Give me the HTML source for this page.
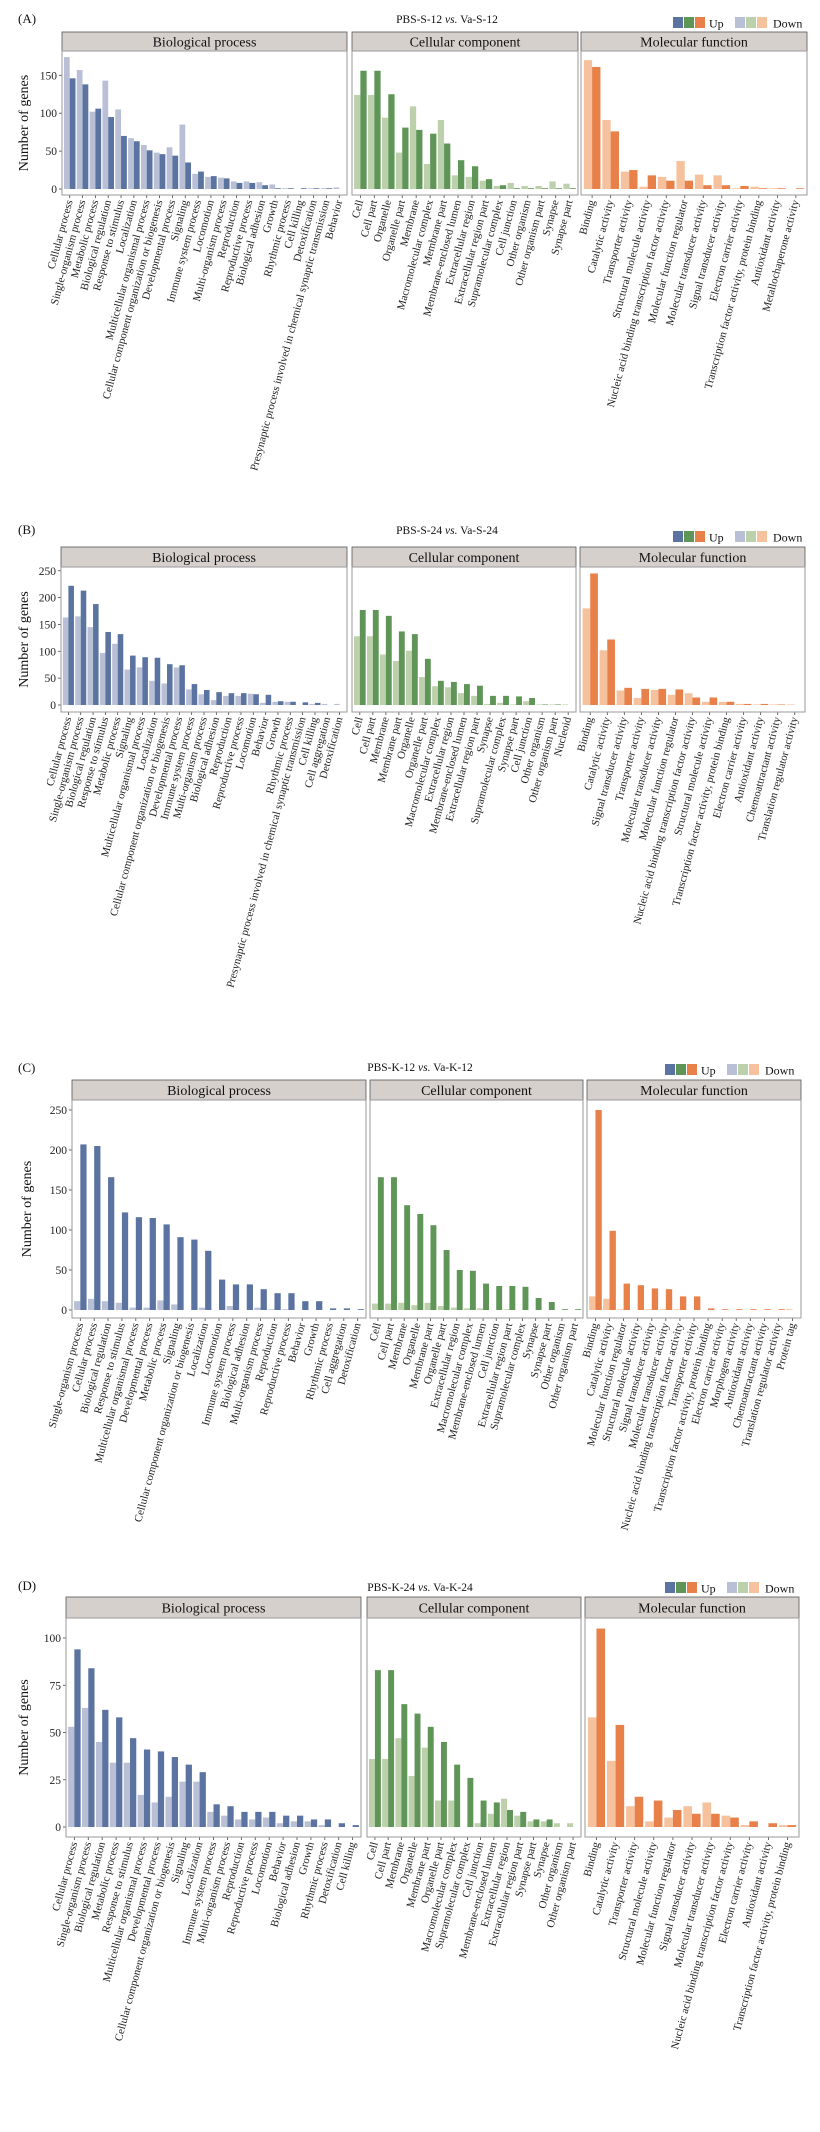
<!DOCTYPE html>
<html><head><meta charset="utf-8">
<style>
html,body{margin:0;padding:0;background:#fff;}
svg{display:block;font-family:"Liberation Serif","DejaVu Serif",serif;}
</style></head>
<body>
<svg id="fig" width="820" height="2132" viewBox="0 0 820 2132" font-family="Liberation Serif, DejaVu Serif, serif" xmlns="http://www.w3.org/2000/svg"></svg>
<script>
// ---------- Panel A ----------
const aBpCats=["Cellular process","Single-organism process","Metabolic process","Biological regulation","Response to stimulus","Localization","Multicellular organismal process","Cellular component organization or biogenesis","Developmental process","Signaling","Immune system process","Locomotion","Multi-organism process","Reproduction","Reproductive process","Biological adhesion","Growth","Rhythmic process","Cell killing","Detoxification","Presynaptic process involved in chemical synaptic transmission","Behavior"];
const aBpDown=[174,157,102,143,105,67,58,48,55,85,20,16,15,10,10,9,6,1,0,1,1,2];
const aBpUp=[146,138,106,95,70,63,51,46,44,35,23,17,14,8,8,5,1,1,1,1,1,0];
const aCcCats=["Cell","Cell part","Organelle","Organelle part","Membrane","Macromolecular complex","Membrane part","Membrane-enclosed lumen","Extracellular region","Extracellular region part","Supramolecular complex","Cell junction","Other organism","Other organism part","Synapse","Synapse part"];
const aCcDown=[124,124,94,48,109,33,91,18,16,11,4,8,4,4,10,7];
const aCcUp=[156,156,125,81,78,73,60,38,30,13,5,1,1,1,1,1];
const aMfCats=["Binding","Catalytic activity","Transporter activity","Structural molecule activity","Nucleic acid binding transcription factor activity","Molecular function regulator","Molecular transducer activity","Signal transducer activity","Electron carrier activity","Transcription factor activity, protein binding","Antioxidant activity","Metallochaperone activity"];
const aMfDown=[170,91,23,3,16,37,19,18,1,3,1,0];
const aMfUp=[161,76,25,18,11,11,5,5,4,1,1,1];
const aTicks=[0,50,100,150];
// ---------- Panel B ----------
const bBpCats=["Cellular process","Single-organism process","Biological regulation","Response to stimulus","Metabolic process","Signaling","Multicellular organismal process","Localization","Cellular component organization or biogenesis","Developmental process","Immune system process","Multi-organism process","Biological adhesion","Reproduction","Reproductive process","Locomotion","Behavior","Growth","Rhythmic process","Presynaptic process involved in chemical synaptic transmission","Cell killing","Cell aggregation","Detoxification"];
const bBpDown=[163,165,145,97,114,66,70,45,40,70,29,20,9,17,17,21,4,6,6,0,2,2,2];
const bBpUp=[222,213,188,136,132,92,89,88,76,74,39,28,24,22,22,20,19,7,6,5,4,0,0];
const bCcCats=["Cell","Cell part","Membrane","Membrane part","Organelle","Organelle part","Macromolecular complex","Extracellular region","Membrane-enclosed lumen","Extracellular region part","Synapse","Supramolecular complex","Synapse part","Cell junction","Other organism","Other organism part","Nucleoid"];
const bCcDown=[128,128,94,82,101,52,35,33,22,17,2,4,1,7,1,1,1];
const bCcUp=[177,177,166,137,132,86,45,43,39,36,17,17,16,13,1,1,0];
const bMfCats=["Binding","Catalytic activity","Signal transducer activity","Transporter activity","Molecular transducer activity","Molecular function regulator","Nucleic acid binding transcription factor activity","Structural molecule activity","Transcription factor activity, protein binding","Electron carrier activity","Antioxidant activity","Chemoattractant activity","Translation regulator activity"];
const bMfDown=[180,102,27,13,28,19,22,6,6,2,1,1,1];
const bMfUp=[245,122,32,30,30,29,14,14,6,2,2,1,0];
const bTicks=[0,50,100,150,200,250];
// ---------- Panel C ----------
const cBpCats=["Single-organism process","Cellular process","Biological regulation","Response to stimulus","Multicellular organismal process","Developmental process","Metabolic process","Signaling","Cellular component organization or biogenesis","Localization","Locomotion","Immune system process","Biological adhesion","Multi-organism process","Reproduction","Reproductive process","Behavior","Growth","Rhythmic process","Cell aggregation","Detoxification"];
const cBpDown=[11,14,11,9,3,3,12,7,0,3,0,5,0,3,1,1,0,0,0,0,0];
const cBpUp=[207,205,166,122,116,115,107,91,88,74,38,32,32,26,21,21,11,11,2,2,1];
const cCcCats=["Cell","Cell part","Membrane","Organelle","Membrane part","Organelle part","Extracellular region","Macromolecular complex","Membrane-enclosed lumen","Cell junction","Extracellular region part","Supramolecular complex","Synapse","Synapse part","Other organism","Other organism part"];
const cCcDown=[8,8,9,6,9,5,3,2,2,0,1,0,0,0,0,0];
const cCcUp=[166,166,131,120,106,75,50,49,33,30,30,29,15,10,1,1];
const cMfCats=["Binding","Catalytic activity","Molecular function regulator","Structural molecule activity","Signal transducer activity","Molecular transducer activity","Nucleic acid binding transcription factor activity","Transporter activity","Transcription factor activity, protein binding","Electron carrier activity","Morphogen activity","Antioxidant activity","Chemoattractant activity","Translation regulator activity","Protein tag"];
const cMfDown=[17,14,1,0,1,1,1,0,0,0,0,0,0,0,1];
const cMfUp=[250,99,33,31,27,26,17,17,2,1,1,1,1,1,0];
const cTicks=[0,50,100,150,200,250];
// ---------- Panel D ----------
const dBpCats=["Cellular process","Single-organism process","Biological regulation","Metabolic process","Response to stimulus","Multicellular organismal process","Developmental process","Cellular component organization or biogenesis","Signaling","Localization","Immune system process","Multi-organism process","Reproduction","Reproductive process","Locomotion","Behavior","Biological adhesion","Growth","Rhythmic process","Detoxification","Cell killing"];
const dBpDown=[53,63,45,34,34,17,13,16,24,24,8,6,4,4,5,2,3,3,1,0,0];
const dBpUp=[94,84,62,58,47,41,40,37,33,29,12,11,8,8,8,6,6,4,4,2,1];
const dCcCats=["Cell","Cell part","Membrane","Organelle","Membrane part","Organelle part","Macromolecular complex","Supramolecular complex","Cell junction","Membrane-enclosed lumen","Extracellular region","Extracellular region part","Synapse part","Synapse","Other organism","Other organism part"];
const dCcDown=[36,36,47,27,42,14,14,0,2,7,15,6,3,3,2,2];
const dCcUp=[83,83,65,60,53,45,33,26,14,13,9,8,4,4,0,0];
const dMfCats=["Binding","Catalytic activity","Transporter activity","Structural molecule activity","Molecular function regulator","Signal transducer activity","Molecular transducer activity","Nucleic acid binding transcription factor activity","Electron carrier activity","Antioxidant activity","Transcription factor activity, protein binding"];
const dMfDown=[58,35,11,3,5,11,13,6,1,0,1];
const dMfUp=[105,54,16,14,9,7,7,5,3,2,1];
const dTicks=[0,25,50,75,100];

const NS="http://www.w3.org/2000/svg";
const svg=document.getElementById("fig");
const COLORS={bp:["#b9c0d6","#5a73a0"],cc:["#bcd0ac","#5f9658"],mf:["#f6c29d","#e8804a"]};
function mk(tag,attrs,parent){const e=document.createElementNS(NS,tag);for(const k in attrs)e.setAttribute(k,attrs[k]);(parent||svg).appendChild(e);return e;}

const panels=[
 {id:"a",letter:"(A)",letterY:23,title:"PBS-S-12 ",title2:"Va-S-12",titleX:447,titleY:23,legY:23,legX:673,stripTop:32,stripBot:51,bottom:195,y0:189,ppu:0.758,ticks:aTicks,
  facets:[["bp","Biological process",62,347,aBpCats,aBpDown,aBpUp],["cc","Cellular component",352,578,aCcCats,aCcDown,aCcUp],["mf","Molecular function",581,807,aMfCats,aMfDown,aMfUp]]},
 {id:"b",letter:"(B)",letterY:534,title:"PBS-S-24 ",title2:"Va-S-24",titleX:447,titleY:534,legY:537,legX:673,stripTop:547,stripBot:567,bottom:712,y0:705,ppu:0.537,ticks:bTicks,
  facets:[["bp","Biological process",61,347,bBpCats,bBpDown,bBpUp],["cc","Cellular component",352,576,bCcCats,bCcDown,bCcUp],["mf","Molecular function",580,805,bMfCats,bMfDown,bMfUp]]},
 {id:"c",letter:"(C)",letterY:1072,title:"PBS-K-12 ",title2:"Va-K-12",titleX:420,titleY:1071,legY:1070,legX:665,stripTop:1080,stripBot:1100,bottom:1318,y0:1310,ppu:0.8,ticks:cTicks,
  facets:[["bp","Biological process",72,366,cBpCats,cBpDown,cBpUp],["cc","Cellular component",370,583,cCcCats,cCcDown,cCcUp],["mf","Molecular function",587,801,cMfCats,cMfDown,cMfUp]]},
 {id:"d",letter:"(D)",letterY:1590,title:"PBS-K-24 ",title2:"Va-K-24",titleX:420,titleY:1591,legY:1588,legX:665,stripTop:1597,stripBot:1618,bottom:1837,y0:1827,ppu:1.89,ticks:dTicks,
  facets:[["bp","Biological process",66,361,dBpCats,dBpDown,dBpUp],["cc","Cellular component",367,581,dCcCats,dCcDown,dCcUp],["mf","Molecular function",585,799,dMfCats,dMfDown,dMfUp]]}
];

panels.forEach(p=>{
  const g=mk("g",{});
  
  
  const L=mk("text",{x:18,y:p.letterY,"font-size":13,fill:"#111"},g);L.textContent=p.letter;
  
  
  const T=mk("text",{x:p.titleX,y:p.titleY,"font-size":11.5,"text-anchor":"middle",fill:"#111"},g);
  
  
  const t1=mk("tspan",{},T);t1.textContent=p.title;
  const t2=mk("tspan",{"font-style":"italic"},T);t2.textContent="vs.";
  const t3=mk("tspan",{},T);t3.textContent=" "+p.title2;
  const lg=mk("g",{},g);
  
  
  const keys=["bp","cc","mf"];
  keys.forEach((k,i)=>{const r=mk("rect",{x:p.legX+i*11,y:p.legY-6,width:10,height:11,fill:COLORS[k][1]},lg);});
  const u=mk("text",{x:p.legX+36,y:p.legY+4.5,"font-size":12,fill:"#111"},lg);u.textContent="Up";
  
  
  keys.forEach((k,i)=>{const r=mk("rect",{x:p.legX+62+i*11,y:p.legY-6,width:10,height:11,fill:COLORS[k][0]},lg);});
  const dn=mk("text",{x:p.legX+100,y:p.legY+4.5,"font-size":12,fill:"#111"},lg);dn.textContent="Down";
  
  
  const ymid=(p.stripBot+p.bottom)/2;
  const yt=mk("text",{x:0,y:0,"font-size":14,"text-anchor":"middle",fill:"#111",transform:`translate(${p.id==="c"?31:28},${ymid}) rotate(-90)`},g);
  yt.textContent="Number of genes";
  
  
  const yS=v=>p.y0-v*p.ppu;
  const fx0=p.facets[0][2];
  p.ticks.forEach(tv=>{
    mk("line",{x1:fx0-3,x2:fx0,y1:yS(tv),y2:yS(tv),stroke:"#444","stroke-width":0.8},g);
    const tl=mk("text",{x:fx0-5,y:yS(tv)+4,"font-size":11.5,"text-anchor":"end",fill:"#222"},g);
    tl.textContent=tv;
    
    
  });
  p.facets.forEach(f=>{
    const [key,name,x0,x1,cats,down,up]=f;
    const fg=mk("g",{},g);
    
    
    const st=mk("rect",{x:x0,y:p.stripTop,width:x1-x0,height:p.stripBot-p.stripTop,fill:"#d6d0cd",stroke:"#555","stroke-width":0.8},fg);
    
    
    const sl=mk("text",{x:(x0+x1)/2,y:p.stripTop+(p.stripBot-p.stripTop)/2+5,"font-size":14,"text-anchor":"middle",fill:"#111"},fg);
    sl.textContent=name;
    
    
    const n=cats.length;const s=(x1-x0)/(n-1+1.2);const bw=0.45*s;
    cats.forEach((c,i)=>{
      const cx=x0+(0.6+i)*s;
      const hd=down[i]*p.ppu, hu=up[i]*p.ppu;
      const rd=mk("rect",{x:cx-bw,y:p.y0-hd,width:bw,height:hd,fill:COLORS[key][0]},fg);
      
      
      const ru=mk("rect",{x:cx,y:p.y0-hu,width:bw,height:hu,fill:COLORS[key][1]},fg);
      
      
      mk("line",{x1:cx,x2:cx,y1:p.bottom,y2:p.bottom+3,stroke:"#444","stroke-width":0.8},fg);
      const xl=mk("text",{x:0,y:0,"font-size":11,"text-anchor":"end",fill:"#222",transform:`translate(${cx+3},${p.bottom+6}) rotate(-75)`},fg);
      xl.textContent=c;
      
      
    });
    const fr=mk("rect",{x:x0,y:p.stripBot,width:x1-x0,height:p.bottom-p.stripBot,fill:"none",stroke:"#9a9a9a","stroke-width":1},fg);
    
    
  });
});
</script>
</body></html>
